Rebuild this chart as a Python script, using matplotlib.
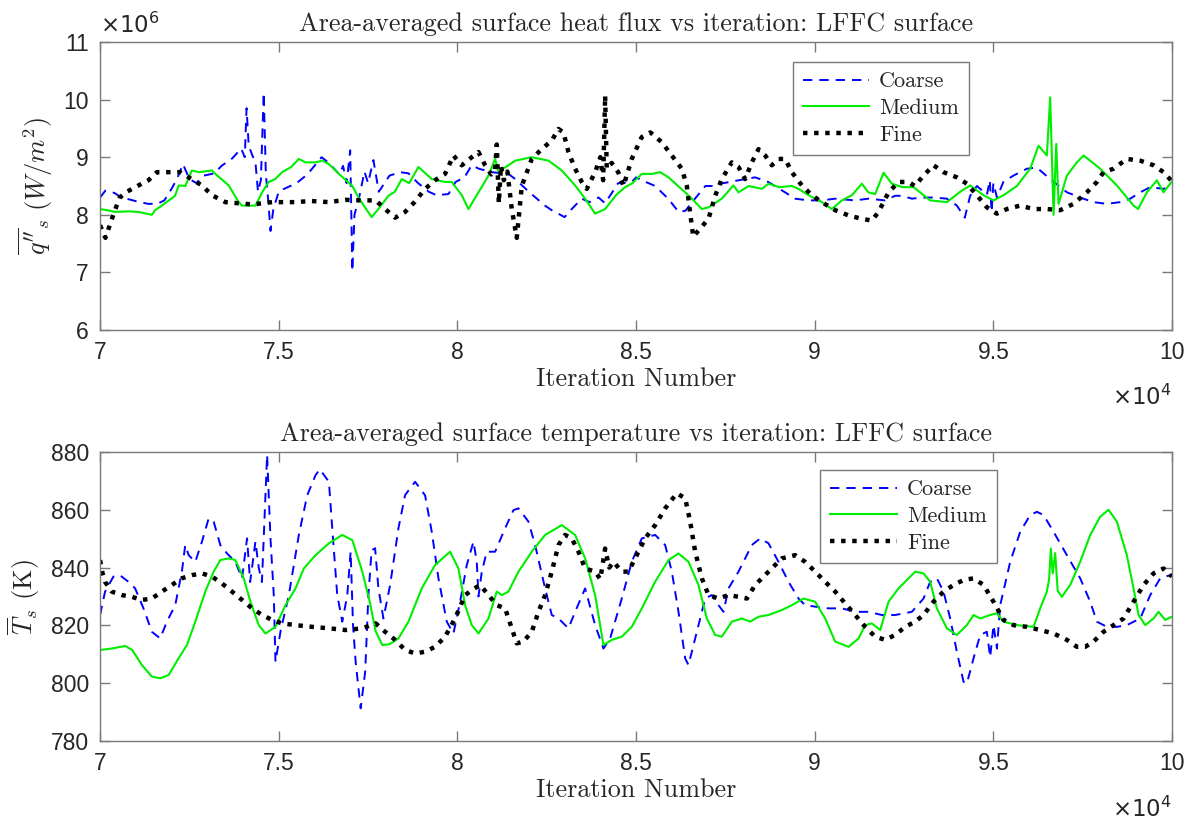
import numpy as np
import matplotlib
matplotlib.use("Agg")
import matplotlib.pyplot as plt
from matplotlib.ticker import FuncFormatter, MultipleLocator

plt.rcParams["mathtext.fontset"] = "cm"
plt.rcParams["axes.formatter.use_mathtext"] = True

# ---------------- heat flux (W/m^2, stored in units of 1e6) ----------------
q_coarse_it = [70000, 70150, 70400, 70600, 70800, 71100, 71350, 71600, 71800, 72000,
               72150, 72320, 72500, 72700, 72900, 73200, 73400, 73700, 73950, 74050,
               74100, 74160, 74250, 74350, 74420, 74500, 74580, 74640, 74700, 74770,
               74850, 75000, 75150, 75500, 75800, 76200, 76400, 76700, 76800, 76900,
               77000, 77060, 77120, 77250, 77400, 77500, 77650, 77800, 78100, 78400,
               78630, 78900, 79200, 79420, 79750, 79950, 80200, 80400, 80600, 80960,
               81430, 81620, 82000, 82450, 82640, 83000, 83200, 83480, 83700, 83950,
               84135, 84500, 84880, 85000, 85160, 85535, 85900, 86190, 86380, 86650,
               86940, 87200, 87450, 88050, 88330, 88700, 89170, 89450, 89830, 90200,
               90570, 91130, 91500, 91970, 92250, 92440, 92720, 93000, 93330, 93700,
               93980, 94200, 94350, 94540, 94820, 94900, 94950, 95000, 95100, 95280,
               95560, 95940, 96200, 96310, 96590, 97060, 97520, 97800, 98180, 98550,
               98830, 99110, 99390, 99760, 100000]
q_coarse = [8.30, 8.42, 8.38, 8.30, 8.27, 8.22, 8.19, 8.19, 8.25, 8.45,
            8.62, 8.88, 8.62, 8.55, 8.68, 8.72, 8.85, 8.98, 9.15, 9.00,
            9.85, 9.20, 9.05, 8.90, 8.40, 8.60, 10.12, 8.70, 8.30, 7.72,
            8.10, 8.40, 8.45, 8.55, 8.70, 9.00, 8.90, 8.70, 8.85, 8.55,
            9.12, 7.02, 8.00, 8.30, 8.75, 8.55, 8.95, 8.40, 8.68, 8.74,
            8.72, 8.55, 8.40, 8.34, 8.36, 8.57, 8.65, 8.86, 8.80, 8.74,
            8.71, 8.62, 8.40, 8.16, 8.08, 7.96, 8.10, 8.28, 8.22, 8.30,
            8.20, 8.55, 8.57, 8.65, 8.60, 8.50, 8.28, 8.05, 8.07, 8.28,
            8.50, 8.50, 8.55, 8.62, 8.65, 8.57, 8.39, 8.28, 8.25, 8.25,
            8.28, 8.25, 8.28, 8.25, 8.33, 8.33, 8.28, 8.30, 8.30, 8.28,
            8.16, 7.95, 8.33, 8.50, 8.35, 8.60, 8.05, 8.55, 8.30, 8.57,
            8.68, 8.80, 8.82, 8.77, 8.62, 8.39, 8.28, 8.22, 8.19, 8.22,
            8.28, 8.39, 8.48, 8.45, 8.50]

q_medium_it = [70000, 70200, 70420, 70800, 71075, 71300, 71450, 71540, 71730, 72100,
               72200, 72385, 72570, 72760, 73130, 73225, 73600, 73880, 73974, 74350,
               74535, 74720, 74900, 75096, 75350, 75563, 75750, 76030, 76218, 76405,
               76685, 77060, 77250, 77600, 77790, 78070, 78250, 78443, 78650, 78910,
               79283, 79656, 79843, 80123, 80310, 80590, 80870, 81056, 81150, 81430,
               81620, 82082, 82550, 82920, 83295, 83575, 83855, 84135, 84450, 84695,
               84900, 85160, 85440, 85675, 85908, 86375, 86608, 86841, 87028, 87400,
               87727, 87867, 88150, 88520, 88707, 89000, 89360, 89546, 89826, 90200,
               90480, 90760, 91040, 91320, 91500, 91692, 91926, 92160, 92450, 92765,
               93232, 93700, 94072, 94352, 94725, 95004, 95284, 95658, 96030, 96264,
               96497, 96590, 96684, 96760, 96824, 97057, 97337, 97524, 97990, 98456,
               98923, 99050, 99296, 99576, 99760, 100000]
q_medium = [8.10, 8.08, 8.05, 8.06, 8.05, 8.02, 8.00, 8.08, 8.16, 8.33,
            8.51, 8.50, 8.77, 8.74, 8.77, 8.71, 8.51, 8.22, 8.16, 8.16,
            8.39, 8.57, 8.62, 8.74, 8.83, 8.97, 8.91, 8.91, 8.94, 8.88,
            8.71, 8.50, 8.28, 7.96, 8.10, 8.33, 8.40, 8.62, 8.55, 8.83,
            8.62, 8.57, 8.57, 8.34, 8.10, 8.39, 8.68, 8.97, 8.75, 8.86,
            8.94, 9.00, 8.94, 8.77, 8.51, 8.28, 8.02, 8.10, 8.35, 8.48,
            8.55, 8.71, 8.71, 8.74, 8.65, 8.39, 8.25, 8.10, 8.13, 8.28,
            8.51, 8.39, 8.50, 8.45, 8.54, 8.48, 8.50, 8.45, 8.34, 8.22,
            8.10, 8.25, 8.34, 8.54, 8.39, 8.36, 8.73, 8.54, 8.48, 8.48,
            8.25, 8.22, 8.40, 8.51, 8.34, 8.25, 8.34, 8.50, 8.80, 9.20,
            9.03, 10.04, 8.00, 9.23, 8.19, 8.68, 8.91, 9.03, 8.80, 8.51,
            8.16, 8.10, 8.39, 8.60, 8.39, 8.58]

q_fine_it = [70000, 70150, 70400, 70550, 70750, 71075, 71356, 71590, 71917, 72244,
             72478, 72852, 73132, 73506, 73880, 74254, 74815, 75470, 75900, 76405,
             76872, 77340, 77714, 77977, 78257, 78537, 78800, 79096, 79376, 79656,
             79890, 80123, 80403, 80590, 80776, 80950, 81050, 81102, 81160, 81220,
             81300, 81400, 81522, 81662, 81802, 82082, 82362, 82642, 82828, 82968,
             83108, 83295, 83482, 83622, 83855, 84000, 84080, 84135, 84180, 84320,
             84500, 84648, 84880, 85160, 85400, 85720, 86000, 86281, 86421, 86500,
             86600, 87028, 87214, 87400, 87680, 87867, 88054, 88240, 88427, 88614,
             88800, 88987, 89173, 89360, 89640, 89920, 90200, 90573, 90946, 91320,
             91600, 91786, 92067, 92347, 92627, 92800, 93045, 93325, 93605, 93978,
             94258, 94538, 94818, 95098, 95378, 95751, 96124, 96497, 96870, 97244,
             97617, 97897, 98083, 98363, 98736, 99110, 99483, 99763, 100000]
q_fine = [7.82, 7.60, 8.05, 8.30, 8.40, 8.51, 8.60, 8.74, 8.74, 8.74,
          8.65, 8.51, 8.34, 8.22, 8.20, 8.18, 8.22, 8.22, 8.24, 8.22,
          8.26, 8.25, 8.25, 8.10, 7.95, 8.05, 8.22, 8.45, 8.60, 8.71,
          9.03, 8.86, 9.00, 9.09, 8.86, 8.70, 8.75, 9.22, 8.20, 8.85,
          8.60, 8.75, 8.10, 7.60, 8.50, 8.97, 9.14, 9.29, 9.49, 9.43,
          9.09, 8.80, 8.57, 8.45, 8.74, 9.00, 8.60, 10.07, 8.80, 8.90,
          8.74, 8.50, 8.97, 9.35, 9.43, 9.26, 9.03, 8.80, 8.50, 8.10,
          7.62, 7.93, 8.33, 8.62, 8.91, 8.83, 8.62, 8.91, 9.14, 9.03,
          8.86, 8.97, 8.97, 8.74, 8.51, 8.34, 8.22, 8.08, 7.99, 7.93,
          7.90, 8.05, 8.39, 8.57, 8.57, 8.50, 8.68, 8.86, 8.74, 8.65,
          8.54, 8.34, 8.13, 8.02, 8.10, 8.16, 8.10, 8.10, 8.08, 8.19,
          8.39, 8.57, 8.74, 8.80, 8.97, 8.94, 8.86, 8.74, 8.58]

# ---------------- surface temperature (K) ----------------
t_coarse_it = [70000, 70140, 70374, 70550, 70795, 70982, 71215, 71450, 71683, 71870,
               72104, 72290, 72384, 72480, 72665, 72852, 73039, 73180, 73366, 73553,
               73787, 73974, 74114, 74200, 74348, 74441, 74530, 74675, 74770, 74862,
               74909, 75049, 75283, 75563, 75797, 76031, 76150, 76405, 76498, 76638,
               76779, 76919, 77013, 77080, 77153, 77293, 77420, 77510, 77600, 77697,
               77790, 77930, 78117, 78350, 78537, 78817, 79096, 79283, 79470, 79703,
               79890, 80076, 80263, 80450, 80543, 80590, 80683, 80823, 81056, 81336,
               81570, 81709, 81989, 82175, 82455, 82642, 82828, 83015, 83108, 83295,
               83575, 83855, 84088, 84275, 84601, 84880, 85161, 85535, 85815, 86001,
               86188, 86375, 86468, 86655, 86935, 87120, 87308, 87448, 87587, 87867,
               88240, 88474, 88707, 88987, 89267, 89547, 89733, 90013, 90386, 90760,
               91133, 91506, 91879, 92252, 92719, 93045, 93232, 93419, 93605, 93792,
               93978, 94165, 94258, 94445, 94631, 94818, 94910, 95004, 95100, 95191,
               95471, 95751, 96031, 96218, 96404, 96684, 97057, 97430, 97710, 97897,
               98177, 98457, 98736, 99110, 99390, 99670, 99950, 100000]
t_coarse = [823.6, 831.7, 836.9, 837.4, 835.1, 832.8, 825.9, 817.8, 815.5, 821.3,
            827.0, 838.6, 847.8, 844.3, 842.0, 849.0, 857.0, 855.9, 847.8, 844.9,
            842.0, 836.3, 850.1, 835.0, 849.0, 840.0, 835.0, 879.0, 850.0, 830.5,
            807.4, 817.8, 830.5, 851.3, 865.0, 872.0, 874.0, 869.7, 853.6, 830.5,
            821.3, 830.5, 845.5, 820.0, 807.4, 791.3, 804.0, 830.5, 846.0, 846.7,
            832.8, 822.4, 833.9, 853.6, 865.1, 869.7, 865.0, 852.4, 836.3, 821.3,
            817.2, 828.2, 840.9, 849.0, 842.0, 830.0, 838.6, 845.5, 845.5, 853.6,
            859.9, 860.5, 855.9, 847.8, 832.8, 823.6, 822.4, 820.1, 819.0, 824.7,
            832.8, 820.1, 812.0, 815.5, 829.3, 842.0, 850.1, 851.3, 847.8, 838.6,
            824.7, 808.6, 806.3, 815.5, 829.3, 830.5, 827.0, 824.7, 832.8, 838.6,
            847.8, 850.1, 848.4, 842.0, 835.1, 829.3, 827.0, 826.5, 825.9, 825.9,
            824.7, 824.7, 823.6, 823.6, 824.7, 829.3, 835.1, 836.3, 831.7, 822.4,
            810.9, 800.5, 799.9, 808.6, 816.7, 817.8, 809.0, 820.1, 812.0, 827.0,
            842.0, 852.4, 858.2, 859.3, 858.2, 852.4, 844.3, 836.3, 828.2, 821.3,
            819.5, 819.5, 820.1, 822.4, 830.5, 836.3, 837.4, 837.0]

t_medium_it = [70000, 70327, 70700, 70900, 71169, 71450, 71683, 71917, 72197, 72431,
               72665, 72945, 73179, 73366, 73600, 73787, 74021, 74208, 74441, 74628,
               74909, 75189, 75470, 75703, 76031, 76405, 76779, 77060, 77340, 77550,
               77714, 77900, 78100, 78350, 78630, 79003, 79376, 79796, 80030, 80216,
               80403, 80590, 80870, 81102, 81250, 81429, 81709, 82082, 82455, 82922,
               83295, 83575, 83855, 84088, 84321, 84601, 84880, 85161, 85535, 85908,
               86188, 86468, 86748, 86981, 87214, 87400, 87680, 87960, 88194, 88427,
               88707, 89080, 89360, 89687, 90013, 90293, 90573, 90946, 91226, 91413,
               91600, 91833, 92066, 92346, 92626, 92812, 93045, 93232, 93419, 93698,
               93978, 94258, 94445, 94631, 94912, 95098, 95284, 95657, 96124, 96310,
               96497, 96560, 96609, 96660, 96730, 96800, 96917, 97150, 97430, 97710,
               97990, 98223, 98456, 98736, 98923, 99063, 99250, 99483, 99623, 99810,
               100000]
t_medium = [811.5, 812.0, 812.9, 811.5, 806.3, 802.3, 801.7, 802.8, 808.6, 813.2,
            821.3, 831.7, 838.6, 842.6, 843.2, 842.6, 836.3, 828.2, 820.1, 817.2,
            819.5, 827.0, 832.8, 839.7, 844.3, 848.4, 851.3, 849.5, 838.6, 828.0,
            818.0, 813.2, 813.5, 815.5, 821.3, 832.8, 840.9, 845.5, 839.7, 827.0,
            820.1, 817.2, 822.4, 831.7, 830.5, 831.7, 838.6, 845.5, 851.3, 854.7,
            851.3, 843.2, 830.5, 813.2, 815.0, 816.1, 819.5, 825.9, 835.1, 842.6,
            844.9, 842.0, 834.0, 822.4, 816.7, 816.1, 821.3, 822.4, 821.3, 823.0,
            823.6, 825.3, 827.0, 829.3, 828.2, 822.4, 814.4, 812.6, 815.5, 820.1,
            820.7, 818.4, 828.2, 832.8, 836.3, 838.6, 838.0, 835.1, 825.9, 819.0,
            816.7, 820.1, 823.6, 822.4, 823.6, 824.2, 821.3, 820.1, 819.5, 825.9,
            831.7, 836.0, 846.6, 838.0, 845.0, 832.0, 829.9, 834.0, 842.0, 851.3,
            857.6, 860.0, 855.9, 844.3, 832.8, 823.6, 820.1, 822.4, 824.7, 821.9,
            823.0]

t_fine_it = [70000, 70070, 70140, 70327, 70608, 70888, 71169, 71450, 71730, 72010,
             72290, 72571, 72852, 73132, 73413, 73693, 73974, 74254, 74535, 74815,
             75096, 75470, 75937, 76405, 76872, 77340, 77714, 77977, 78257, 78537,
             78817, 79096, 79376, 79656, 79936, 80216, 80403, 80636, 80870, 81102,
             81336, 81522, 81662, 81849, 82082, 82269, 82455, 82642, 82828, 83015,
             83202, 83389, 83575, 83855, 84000, 84135, 84250, 84368, 84601, 84788,
             84974, 85255, 85535, 85815, 86141, 86375, 86515, 86655, 86841, 87028,
             87308, 87587, 87867, 88101, 88334, 88707, 89080, 89454, 89733, 90013,
             90293, 90573, 90853, 91133, 91413, 91692, 91972, 92252, 92532, 92812,
             93045, 93325, 93605, 93885, 94165, 94445, 94725, 95004, 95284, 95564,
             95937, 96310, 96684, 97057, 97337, 97570, 97803, 98083, 98363, 98643,
             98923, 99203, 99483, 99763, 100000]
t_fine = [842.6, 838.0, 835.1, 831.7, 830.5, 829.9, 828.8, 829.3, 831.7, 834.0,
          836.3, 837.4, 838.0, 836.9, 834.5, 831.7, 828.8, 825.9, 823.6, 821.9,
          820.7, 820.1, 819.5, 819.0, 818.4, 819.0, 820.7, 817.8, 815.0, 811.5,
          810.3, 810.9, 812.6, 816.1, 822.4, 830.5, 832.2, 834.0, 830.5, 827.0,
          825.9, 819.0, 813.8, 814.4, 817.8, 824.7, 830.5, 838.6, 847.8, 851.3,
          850.1, 845.5, 839.7, 838.6, 836.0, 846.6, 840.0, 842.0, 838.6, 838.6,
          843.2, 850.1, 854.7, 860.5, 865.7, 864.0, 855.9, 845.5, 836.3, 830.5,
          829.3, 830.5, 829.9, 829.3, 834.0, 838.6, 843.2, 844.3, 842.0, 838.6,
          835.1, 831.7, 827.6, 823.6, 819.5, 816.1, 815.0, 816.7, 819.5, 821.3,
          823.6, 828.2, 831.7, 834.0, 835.7, 836.3, 834.0, 828.2, 821.9, 820.1,
          819.5, 818.4, 817.2, 815.0, 812.6, 812.6, 814.4, 817.8, 820.1, 822.4,
          828.2, 834.0, 838.0, 839.7, 836.9]

series_labels = ["Coarse", "Medium", "Fine"]

# ---------------- styling ----------------
SERIF = "cmr10"
SANS = ["Liberation Sans", "DejaVu Sans"]
AX_GRAY = "#7a7a7a"
TXT = "#262626"

styles = [
    dict(color="#0000ff", lw=1.4, linestyle=(0, (4.8, 3.6))),
    dict(color="#00ee00", lw=1.5, linestyle="-"),
    dict(color="black", lw=3.2, linestyle=(0, (1, 1.5)), dash_capstyle="butt"),
]

fig = plt.figure(figsize=(11.94, 8.23), dpi=100)
ax_q = fig.add_axes([0.0838, 0.599, 0.8978, 0.350])
ax_t = fig.add_axes([0.0838, 0.0996, 0.8978, 0.3512])


def style_axes(ax):
    for sp in ax.spines.values():
        sp.set_color(AX_GRAY)
        sp.set_linewidth(1.0)
    ax.tick_params(direction="in", length=7, width=1.0, color=AX_GRAY,
                   top=True, right=True, labelsize=16.5, labelcolor=TXT, pad=8)
    for lab in ax.get_xticklabels() + ax.get_yticklabels():
        lab.set_family(SANS)
    ax.set_xlim(70000, 100000)
    ax.xaxis.set_major_locator(MultipleLocator(5000))
    ax.xaxis.set_major_formatter(FuncFormatter(lambda v, p: f"{v / 1e4:g}"))
    ax.set_xlabel("Iteration Number", family=SERIF, fontsize=18.8, color=TXT, labelpad=2)
    ax.text(1.0, -0.235, r"$\times10^{4}$", transform=ax.transAxes, ha="right", va="center",
            fontsize=16.5, color=TXT, math_fontfamily="dejavusans")


def add_legend(ax, anchor):
    leg = ax.legend(loc="upper left", bbox_to_anchor=anchor, borderaxespad=0,
                    prop={"family": SERIF, "size": 16}, frameon=True, fancybox=False,
                    framealpha=1, edgecolor=AX_GRAY, handlelength=3.0, handletextpad=0.45,
                    labelspacing=0.32, borderpad=0.45)
    leg.get_frame().set_linewidth(1.0)
    for t in leg.get_texts():
        t.set_color(TXT)
    return leg


# ---- heat flux panel ----
q_data = [(q_coarse_it, q_coarse), (q_medium_it, q_medium), (q_fine_it, q_fine)]
for (it, vals), st, lab in zip(q_data, styles, series_labels):
    ax_q.plot(it, np.asarray(vals) * 1e6, label=lab, **st)
ax_q.set_ylim(6e6, 11e6)
ax_q.yaxis.set_major_locator(MultipleLocator(1e6))
ax_q.yaxis.set_major_formatter(FuncFormatter(lambda v, p: f"{v / 1e6:g}"))
style_axes(ax_q)
ax_q.set_ylabel(r"$\overline{q''}_s\ (W/m^2)$", fontsize=19, color=TXT, labelpad=6)
ax_q.set_title("Area-averaged surface heat flux vs iteration: LFFC surface",
               family=SERIF, fontsize=18.8, color=TXT, pad=8)
ax_q.text(0.0, 1.058, r"$\times10^{6}$", transform=ax_q.transAxes, ha="left", va="center",
          fontsize=16.5, color=TXT, math_fontfamily="dejavusans")
add_legend(ax_q, (0.646, 0.931))

# ---- temperature panel ----
t_data = [(t_coarse_it, t_coarse), (t_medium_it, t_medium), (t_fine_it, t_fine)]
for (it, vals), st, lab in zip(t_data, styles, series_labels):
    ax_t.plot(it, vals, label=lab, **st)
ax_t.set_ylim(780, 880)
ax_t.yaxis.set_major_locator(MultipleLocator(20))
ax_t.yaxis.set_major_formatter(FuncFormatter(lambda v, p: f"{v:g}"))
style_axes(ax_t)
ax_t.set_ylabel(r"$\overline{T}_s$ (K)", family=SERIF, fontsize=19, color=TXT, labelpad=6)
ax_t.set_title("Area-averaged surface temperature vs iteration: LFFC surface",
               family=SERIF, fontsize=18.8, color=TXT, pad=8)
add_legend(ax_t, (0.672, 0.938))

fig.savefig("out.png", dpi=100)
